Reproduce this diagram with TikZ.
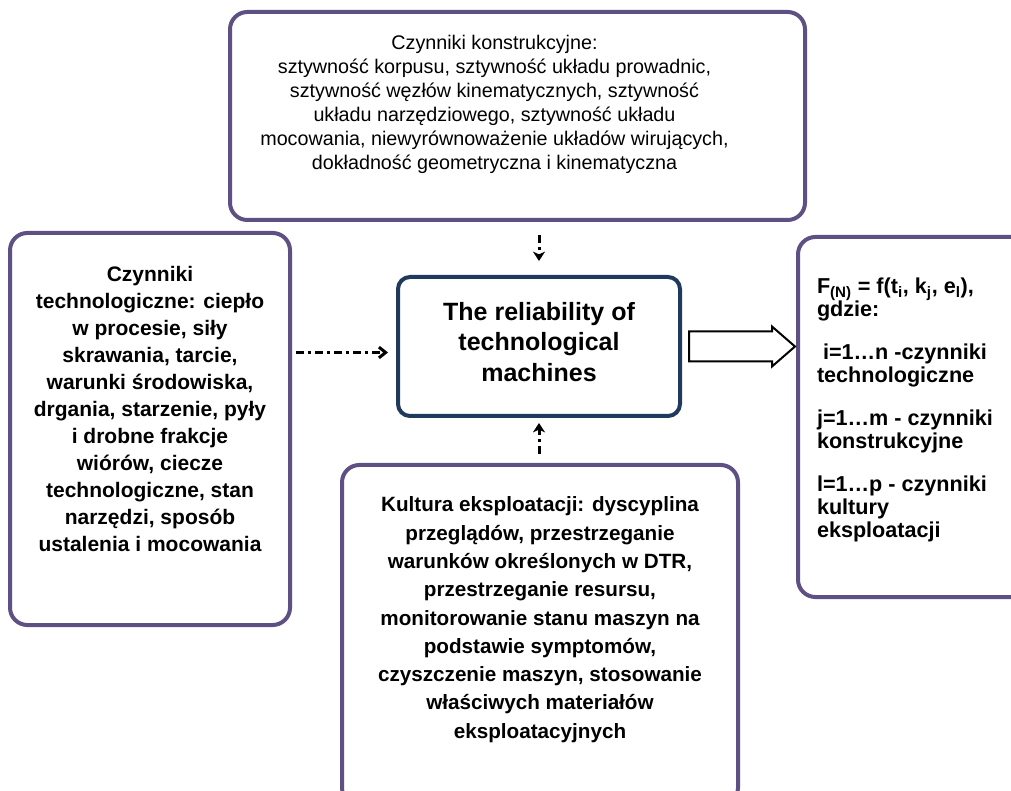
\documentclass[tikz,border=0pt]{standalone}
\usepackage{fontspec}
\setmainfont{Liberation Sans}
\usetikzlibrary{arrows.meta}
\usetikzlibrary{calc}
\newlength{\pix}
\setlength{\pix}{0.75pt}
\definecolor{frame}{RGB}{94,80,130}
\definecolor{navy}{RGB}{31,58,92}
\newcommand{\boxbody}[4]{\parbox[c][#2][t]{#1}{\vspace*{#3}#4}}
\begin{document}
\begin{tikzpicture}[x=0.75pt,y=-0.75pt,
factor/.style={draw=frame,line width=3pt,rounded corners=13pt,inner sep=0pt,fill=white},
core/.style={draw=navy,line width=3pt,rounded corners=9pt,inner sep=0pt,fill=white},
flow/.style={line width=2.25pt,dash pattern=on 6pt off 3pt on 2.25pt off 3pt,-{Stealth[length=7pt,width=9pt,inset=2pt]}}]
\useasboundingbox (0,0) rectangle (1011,791);
\node[factor,font=\fontsize{14.8pt}{18pt}\selectfont] (constr) at (517.5,116) {\boxbody{575\pix}{208\pix}{23\pix}{\centering\rightskip=46\pix plus 1fil Czynniki konstrukcyjne:\\ sztywność korpusu, sztywność układu prowadnic,\\ sztywność węzłów kinematycznych, sztywność\\ układu narzędziowego, sztywność układu\\ mocowania, niewyrównoważenie układów wirujących,\\ dokładność geometryczna i kinematyczna}};
\node[factor,font=\bfseries\fontsize{15.75pt}{20.3pt}\selectfont] (tech) at (150,429) {\boxbody{280\pix}{392\pix}{33\pix}{\centering Czynniki\\ technologiczne: ciepło\\ w procesie, siły\\ skrawania, tarcie,\\ warunki środowiska,\\ drgania, starzenie, pyły\\ i drobne frakcje\\ wiórów, ciecze\\ technologiczne, stan\\ narzędzi, sposób\\ ustalenia i mocowania}};
\node[core,font=\bfseries\fontsize{18.75pt}{23pt}\selectfont] (main) at (539,346.5) {\boxbody{282\pix}{139\pix}{25\pix}{\centering The reliability of\\ technological\\ machines}};
\node[factor,font=\bfseries\fontsize{15.5pt}{21.2pt}\selectfont] (explore) at (540,635) {\boxbody{396\pix}{340\pix}{32\pix}{\centering Kultura eksploatacji: dyscyplina\\ przeglądów, przestrzeganie\\ warunków określonych w DTR,\\ przestrzeganie resursu,\\ monitorowanie stanu maszyn na\\ podstawie symptomów,\\ czyszczenie maszyn, stosowanie\\ właściwych materiałów\\ eksploatacyjnych}};
\node[factor,font=\bfseries\fontsize{16.2pt}{17.25pt}\selectfont] (res) at (919,417) {\boxbody{242\pix}{360\pix}{21\pix}{\leftskip=19\pix\parskip=15pt F\textsubscript{(N)} = f(t\textsubscript{i}, k\textsubscript{j}, e\textsubscript{l}),\\ gdzie:\par \ i=1…n -czynniki\\ technologiczne\par j=1…m - czynniki\\ konstrukcyjne\par l=1…p - czynniki\\ kultury\\ eksploatacji}};
\draw[flow,shorten <=13\pix,shorten >=14\pix] (main.north |- constr.south) -- (main.north);
\draw[flow,shorten <=9\pix,shorten >=5\pix] (main.south |- explore.north) -- (main.south);
\draw[flow,-{Straight Barb[length=5pt,width=8pt]},shorten <=4\pix,shorten >=8\pix] ($(tech.east |- main.west)+(0,6)$) -- ($(main.west)+(0,6)$);
\draw[line width=1.5pt,fill=white] ($(main.east)+(7,-15)$) -- ++(83,0) -- ++(0,-5) -- ++(23,20) -- ++(-23,20) -- ++(0,-5) -- ++(-83,0) -- cycle;
\end{tikzpicture}
\end{document}
